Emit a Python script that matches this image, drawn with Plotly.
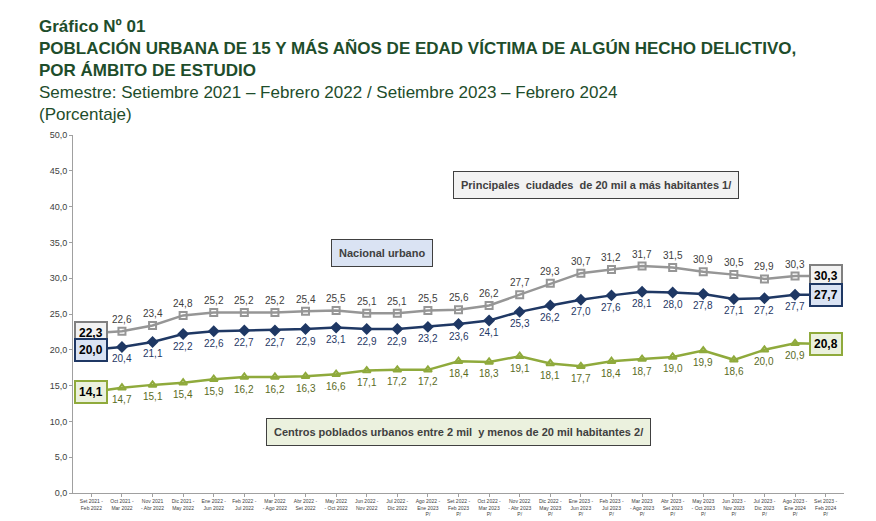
import plotly.graph_objects as go

cats = ["Set 2021 -<br>Feb 2022","Oct 2021 -<br>Mar 2022","Nov 2021<br>- Abr 2022","Dic 2021 -<br>May 2022","Ene 2022 -<br>Jun 2022","Feb 2022 -<br>Jul 2022","Mar 2022<br>- Ago 2022","Abr 2022 -<br>Set 2022","May 2022<br>- Oct 2022","Jun 2022 -<br>Nov 2022","Jul 2022 -<br>Dic 2022","Ago 2022 -<br>Ene 2023<br>P/","Set 2022 -<br>Feb 2023<br>P/","Oct 2022 -<br>Mar 2023<br>P/","Nov 2022<br>- Abr 2023<br>P/","Dic 2022 -<br>May 2023<br>P/","Ene 2023 -<br>Jun 2023<br>P/","Feb 2023 -<br>Jul 2023<br>P/","Mar 2023<br>- Ago 2023<br>P/","Abr 2023 -<br>Set 2023<br>P/","May 2023<br>- Oct 2023<br>P/","Jun 2023 -<br>Nov 2023<br>P/","Jul 2023 -<br>Dic 2023<br>P/","Ago 2023 -<br>Ene 2024<br>P/","Set 2023 -<br>Feb 2024<br>P/"]
principales = [22.3,22.6,23.4,24.8,25.2,25.2,25.2,25.4,25.5,25.1,25.1,25.5,25.6,26.2,27.7,29.3,30.7,31.2,31.7,31.5,30.9,30.5,29.9,30.3,30.3]
nacional = [20.0,20.4,21.1,22.2,22.6,22.7,22.7,22.9,23.1,22.9,22.9,23.2,23.6,24.1,25.3,26.2,27.0,27.6,28.1,28.0,27.8,27.1,27.2,27.7,27.7]
centros = [14.1,14.7,15.1,15.4,15.9,16.2,16.2,16.3,16.6,17.1,17.2,17.2,18.4,18.3,19.1,18.1,17.7,18.4,18.7,19.0,19.9,18.6,20.0,20.9,20.8]

fmt = lambda v: f"{v:.1f}".replace(".", ",")
x = list(range(len(cats)))
fig = go.Figure()
series = [
    (principales, "#969696", "square-open", "#404040", 12, "#f2f2f2", "#808080"),
    (nacional, "#1f3864", "diamond", "#1f3864", -12, "#dae3f3", "#1f3864"),
    (centros, "#8faa3c", "triangle-up-open", "#5a6b1e", -12, "#ebf1de", "#8faa3c"),
]
ann = []
for vals, col, sym, tcol, off, bg, bc in series:
    fig.add_trace(go.Scatter(x=x, y=vals, mode="lines+markers",
        line=dict(color=col, width=2.5),
        marker=dict(symbol=sym, size=7, color=col, line=dict(color=col, width=2)),
        showlegend=False))
    for i, v in enumerate(vals):
        if i == 0 or i == len(vals) - 1:
            ann.append(dict(x=i, y=v, text="<b>"+fmt(v)+"</b>", showarrow=False,
                            font=dict(size=12, color="#000"), bgcolor=bg, bordercolor=bc,
                            borderwidth=2, borderpad=3))
        else:
            ann.append(dict(x=i, y=v, text=fmt(v), showarrow=False, yshift=off,
                            font=dict(size=10, color=tcol)))
boxes = [
    (16.5, 43.0, "Principales  ciudades  de 20 mil a más habitantes 1/", "#f2f2f2"),
    (9.5, 33.5, "Nacional urbano", "#dae3f3"),
    (12.0, 8.5, "Centros poblados urbanos entre 2 mil  y menos de 20 mil habitantes 2/", "#ebf1de"),
]
for bx, by, t, bg in boxes:
    ann.append(dict(x=bx, y=by, text="<b>"+t+"</b>", showarrow=False, bgcolor=bg,
                    bordercolor="#404040", borderwidth=1, borderpad=7,
                    font=dict(size=11, color="#404040")))
ann.append(dict(xref="paper", yref="paper", x=-0.047, y=1.335, xanchor="left", yanchor="top",
                align="left", showarrow=False,
                text="<b>Gráfico Nº 01<br>POBLACIÓN URBANA DE 15 Y MÁS AÑOS DE EDAD VÍCTIMA DE ALGÚN HECHO DELICTIVO,<br>POR ÁMBITO DE ESTUDIO</b><br>Semestre: Setiembre 2021 – Febrero 2022 / Setiembre 2023 – Febrero 2024<br>(Porcentaje)",
                font=dict(size=17, color="#1e4d2b")))
fig.update_layout(
    width=876, height=521, margin=dict(l=65, r=40, t=127, b=34),
    plot_bgcolor="white", paper_bgcolor="white", annotations=ann,
    font=dict(family="Liberation Sans"), separators=",.",
)
fig.update_xaxes(range=[-0.6, 24.6], tickmode="array", tickvals=x, ticktext=cats, tickangle=0,
                 tickfont=dict(size=5, color="#404040"), showgrid=False,
                 showline=True, linecolor="#a0a0a0", ticks="outside", ticklen=3, tickcolor="#a0a0a0")
fig.update_yaxes(range=[0, 50], dtick=5, tickformat=".1f",
                 showgrid=False, showline=True, linecolor="#a0a0a0",
                 tickfont=dict(size=9, color="#404040"), ticks="outside", ticklen=3, tickcolor="#a0a0a0")
fig.write_html("out.html")
